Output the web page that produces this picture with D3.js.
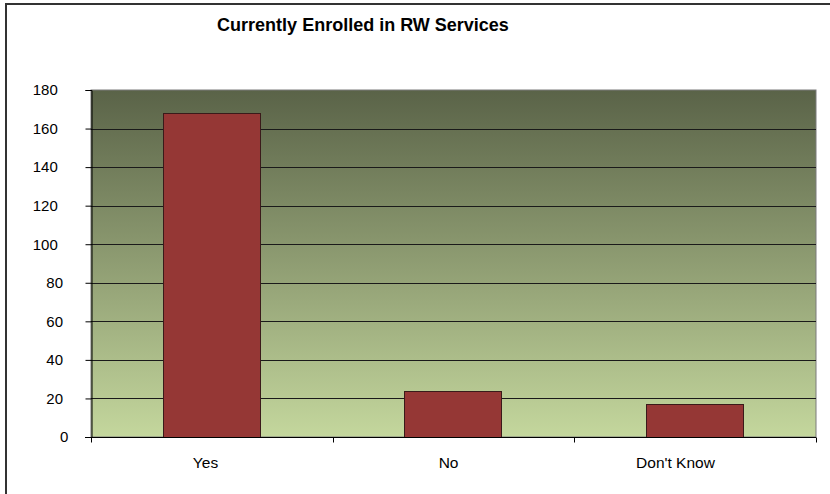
<!DOCTYPE html>
<html>
<head>
<meta charset="utf-8">
<script src="https://cdn.jsdelivr.net/npm/d3@7"></script>
<style>
  html, body { margin: 0; padding: 0; background: #fff; }
  svg { display: block; }
  text { font-family: Arial, "Liberation Sans", sans-serif; fill: #000; }
</style>
</head>
<body>
<svg id="chart" width="830" height="494"></svg>
<script>
// Survey answers and counts
const categories = ["Yes", "No", "Don't Know"];
const counts = [168, 24, 17];
const yTicks = [0, 20, 40, 60, 80, 100, 120, 140, 160, 180];
const chartTitle = "Currently Enrolled in RW Services";

const svg = d3.select("#chart");
const W = 830, H = 494;
const plot = { left: 91, right: 816, top: 90, bottom: 437 };

// Outer chart frame (runs past the page edges on right and bottom)
svg.append("rect")
  .attr("x", 6).attr("y", 4)
  .attr("width", W + 20).attr("height", H + 20)
  .attr("fill", "#fff")
  .attr("stroke", "#333").attr("stroke-width", 2);

const x = d3.scaleBand()
  .domain(categories)
  .range([plot.left, plot.right])
  .paddingInner(0.6)
  .paddingOuter(0.3);

const xGroups = d3.scaleBand()
  .domain(categories)
  .range([plot.left, plot.right])
  .padding(0);

const y = d3.scaleLinear()
  .domain([0, 180])
  .range([plot.bottom, plot.top]);

// Plot background gradient
const defs = svg.append("defs");
const grad = defs.append("linearGradient")
  .attr("id", "bg").attr("x1", 0).attr("y1", 0).attr("x2", 0).attr("y2", 1);
grad.append("stop").attr("offset", "0%").attr("stop-color", "#5a6348");
grad.append("stop").attr("offset", "100%").attr("stop-color", "#c4d79d");

svg.append("rect")
  .attr("x", plot.left).attr("y", plot.top)
  .attr("width", plot.right - plot.left).attr("height", plot.bottom - plot.top)
  .attr("fill", "url(#bg)")
  .attr("stroke", "#7a7a7a").attr("stroke-width", 1);

// Horizontal gridlines
svg.append("g")
  .selectAll("line")
  .data(yTicks.filter(d => d > 0 && d < 180))
  .join("line")
  .attr("x1", plot.left).attr("x2", plot.right)
  .attr("y1", d => Math.round(y(d)) + 0.5).attr("y2", d => Math.round(y(d)) + 0.5)
  .attr("stroke", "#1a1a1a").attr("stroke-width", 1);

// Bars
svg.append("g")
  .selectAll("rect")
  .data(categories.map((c, i) => ({ c, v: counts[i] })))
  .join("rect")
  .attr("x", d => Math.round(x(d.c)) - 0.5)
  .attr("y", d => Math.round(y(d.v)) + 0.5)
  .attr("width", Math.round(x.bandwidth()))
  .attr("height", d => Math.round(y(0)) - Math.round(y(d.v)))
  .attr("fill", "#953735")
  .attr("stroke", "#3a1a1a").attr("stroke-width", 1);

// Y axis; labels sit with a width-dependent offset from the tick
const yAxis = svg.append("g")
  .attr("transform", `translate(${plot.left + 0.5},0)`)
  .call(d3.axisLeft(y).tickValues(yTicks).tickSize(6).tickFormat(d3.format("d")));
yAxis.select(".domain").attr("stroke", "#000");
yAxis.selectAll(".tick line").attr("stroke", "#000");
yAxis.selectAll("text")
  .attr("font-size", "15px")
  .attr("font-family", "Arial, 'Liberation Sans', sans-serif")
  .attr("fill", "#000")
  .attr("text-anchor", "end")
  .attr("x", function () {
    const w = this.getComputedTextLength();
    return (73.5 - 0.63 * w) - (plot.left + 0.5);
  });

// X axis with ticks between categories
const xAxisG = svg.append("g")
  .attr("transform", `translate(0,${plot.bottom + 0.5})`);
xAxisG.append("line")
  .attr("x1", plot.left - 6).attr("x2", plot.right)
  .attr("stroke", "#000");
xAxisG.selectAll(".sep")
  .data(categories)
  .join("line")
  .attr("class", "sep")
  .attr("x1", d => Math.round(xGroups(d) + xGroups.bandwidth()) + 0.5)
  .attr("x2", d => Math.round(xGroups(d) + xGroups.bandwidth()) + 0.5)
  .attr("y1", 0).attr("y2", 5)
  .attr("stroke", "#000");
xAxisG.append("line")
  .attr("x1", plot.left + 0.5).attr("x2", plot.left + 0.5)
  .attr("y1", 0).attr("y2", 5).attr("stroke", "#000");
xAxisG.selectAll(".lbl")
  .data(categories)
  .join("text")
  .attr("class", "lbl")
  .attr("y", 30)
  .attr("text-anchor", "start")
  .attr("font-size", "15.5px")
  .text(d => d)
  .attr("x", function (d) {
    const w = this.getComputedTextLength();
    return xGroups(d) + xGroups.bandwidth() / 2 - 0.75 * w;
  });

// Title
svg.append("text")
  .attr("x", 363).attr("y", 31)
  .attr("text-anchor", "middle")
  .attr("font-size", "18px")
  .attr("font-weight", "bold")
  .text(chartTitle);
</script>
</body>
</html>
